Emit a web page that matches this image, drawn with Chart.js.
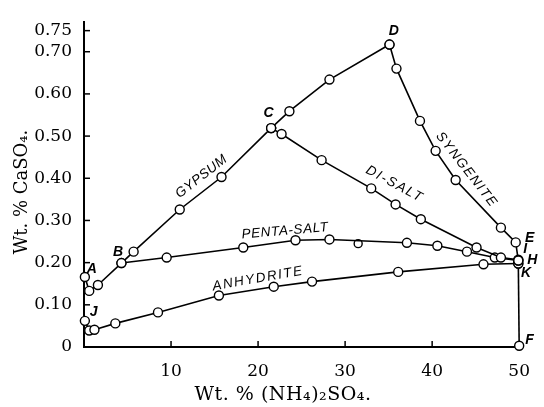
<!DOCTYPE html>
<html>
<head>
<meta charset="utf-8">
<script src="https://cdn.jsdelivr.net/npm/chart.js@4.4.1/dist/chart.umd.min.js"></script>
<style>
    html, body { margin: 0; padding: 0; background: #fff; }
    #wrap { width: 544px; height: 407px; }
</style>
</head>
<body>
<div id="wrap"><canvas id="solubilityChart"></canvas></div>
<script>
// Tick labels
const xTickValues = [10, 20, 30, 40, 50];
const yTickValues = [0, 0.10, 0.20, 0.30, 0.40, 0.50, 0.60, 0.70, 0.75];

// Wt. % (NH4)2SO4 (x) vs Wt. % CaSO4 (y)
const gypsumX = [0.1, 0.6, 1.6, 4.3, 5.7, 11.0, 15.8, 21.5];
const gypsumY = [0.166, 0.133, 0.147, 0.199, 0.226, 0.326, 0.403, 0.519];

const cdX = [21.5, 23.6, 28.2, 35.1];
const cdY = [0.519, 0.559, 0.634, 0.717];

const syngeniteX = [35.1, 35.9, 38.6, 40.4, 42.7, 47.9, 49.6, 49.9];
const syngeniteY = [0.717, 0.660, 0.536, 0.465, 0.396, 0.283, 0.248, 0.205];

const diSaltX = [21.5, 22.7, 27.3, 33.0, 35.8, 38.7, 45.1, 47.9, 49.9];
const diSaltY = [0.519, 0.505, 0.443, 0.376, 0.338, 0.303, 0.236, 0.212, 0.207];

const pentaSaltX = [4.3, 9.5, 18.3, 24.3, 28.2, 37.1, 40.6, 44.0, 47.2, 49.9];
const pentaSaltY = [0.199, 0.212, 0.236, 0.253, 0.255, 0.247, 0.240, 0.226, 0.212, 0.205];

const anhydriteX = [0.1, 0.6, 1.2, 3.6, 8.5, 15.5, 21.8, 26.2, 36.1, 45.9, 49.9];
const anhydriteY = [0.062, 0.039, 0.041, 0.056, 0.082, 0.122, 0.143, 0.155, 0.178, 0.196, 0.198];

const kfX = [49.9, 50.0];
const kfY = [0.198, 0.003];

const strayX = [31.5];
const strayY = [0.245];

// text placed in data units
const pointLetters = [
    { text: "A", x: 0.9, y: 0.185 },
    { text: "B", x: 3.9, y: 0.224 },
    { text: "C", x: 21.2, y: 0.554 },
    { text: "D", x: 35.6, y: 0.748 },
    { text: "E", x: 51.2, y: 0.258 },
    { text: "I", x: 50.7, y: 0.231 },
    { text: "H", x: 51.5, y: 0.205 },
    { text: "K", x: 50.8, y: 0.174 },
    { text: "F", x: 51.2, y: 0.016 },
    { text: "J", x: 1.1, y: 0.082 }
];
const curveNames = [
    { text: "GYPSUM", x: 13.5, y: 0.404, angle: -38, spacing: 0.5 },
    { text: "PENTA-SALT", x: 23.1, y: 0.275, angle: -5, spacing: 0.6 },
    { text: "ANHYDRITE", x: 20.0, y: 0.162, angle: -10, spacing: 1.6 },
    { text: "DI-SALT", x: 35.7, y: 0.386, angle: 28, spacing: 1.8 },
    { text: "SYNGENITE", x: 43.96, y: 0.420, angle: 52, spacing: 1.5 }
];

function toPoints(xs, ys) {
    return xs.map((x, i) => ({ x: x, y: ys[i] }));
}

function curve(xs, ys, showPoints) {
    return {
        data: toPoints(xs, ys),
        showLine: true,
        borderColor: "#000",
        borderWidth: 1.6,
        pointRadius: showPoints ? 4.5 : 0,
        pointBackgroundColor: "#fff",
        pointBorderColor: "#000",
        pointBorderWidth: 1.4,
        tension: 0,
        clip: false
    };
}

const serif = "'DejaVu Serif', serif";

const textPlugin = {
    id: "textPlugin",
    beforeDatasetsDraw(chart) {
        // inward tick marks
        const ctx = chart.ctx;
        const x = chart.scales.x, y = chart.scales.y;
        ctx.save();
        ctx.strokeStyle = "#000";
        ctx.lineWidth = 1.5;
        yTickValues.forEach(v => {
            const py = y.getPixelForValue(v);
            ctx.beginPath();
            ctx.moveTo(x.left, py);
            ctx.lineTo(x.left + 6, py);
            ctx.stroke();
        });
        xTickValues.forEach(v => {
            const px = x.getPixelForValue(v);
            ctx.beginPath();
            ctx.moveTo(px, y.bottom);
            ctx.lineTo(px, y.bottom - 6);
            ctx.stroke();
        });
        ctx.restore();
    },
    afterDraw(chart) {
        const ctx = chart.ctx;
        const x = chart.scales.x, y = chart.scales.y;
        ctx.save();
        ctx.fillStyle = "#000";
        ctx.textAlign = "center";
        ctx.textBaseline = "middle";

        // axis titles
        ctx.save();
        ctx.font = "19px " + serif;
        ctx.letterSpacing = "0.5px";
        ctx.fillText("Wt. % (NH\u2084)\u2082SO\u2084.", 283, 395);
        ctx.restore();
        ctx.save();
        ctx.font = "18px " + serif;
        ctx.translate(22, 192);
        ctx.rotate(-Math.PI / 2);
        ctx.fillText("Wt. % CaSO\u2084.", 0, 0);
        ctx.restore();

        ctx.font = "italic bold 14px 'Liberation Sans', sans-serif";
        pointLetters.forEach(p => {
            ctx.fillText(p.text, x.getPixelForValue(p.x), y.getPixelForValue(p.y));
        });

        ctx.font = "italic 13.5px 'Liberation Sans', sans-serif";
        curveNames.forEach(c => {
            ctx.save();
            ctx.letterSpacing = c.spacing + "px";
            ctx.translate(x.getPixelForValue(c.x), y.getPixelForValue(c.y));
            ctx.rotate(c.angle * Math.PI / 180);
            ctx.fillText(c.text, 0, 0);
            ctx.restore();
        });
        ctx.restore();
    }
};

const ctx = document.getElementById("solubilityChart").getContext("2d");
const chart = new Chart(ctx, {
    type: "scatter",
    data: {
        datasets: [
            curve(gypsumX, gypsumY, true),
            curve(cdX, cdY, true),
            curve(syngeniteX, syngeniteY, true),
            curve(diSaltX, diSaltY, true),
            curve(pentaSaltX, pentaSaltY, true),
            curve(anhydriteX, anhydriteY, true),
            curve(kfX, kfY, true),
            Object.assign(curve(strayX, strayY, true), { showLine: false, pointRadius: 4 })
        ]
    },
    options: {
        responsive: true,
        maintainAspectRatio: false,
        animation: false,
        layout: { padding: { left: 0, right: 17, top: 13, bottom: 0 } },
        plugins: {
            legend: { display: false },
            tooltip: { enabled: false }
        },
        scales: {
            x: {
                type: "linear",
                min: 0,
                max: 50,
                afterBuildTicks: s => { s.ticks = xTickValues.map(v => ({ value: v })); },
                afterFit: s => { s.height = 60; },
                grid: { drawOnChartArea: false, drawTicks: false },
                border: { display: true, color: "#000", width: 2 },
                ticks: {
                    autoSkip: false,
                    maxRotation: 0,
                    padding: 14,
                    color: "#000",
                    font: { family: serif, size: 17 }
                }
            },
            y: {
                type: "linear",
                min: 0,
                max: 0.77,
                afterBuildTicks: s => { s.ticks = yTickValues.map(v => ({ value: v })); },
                afterFit: s => { s.width = 84; },
                grid: { drawOnChartArea: false, drawTicks: false },
                border: { display: true, color: "#000", width: 2 },
                ticks: {
                    autoSkip: false,
                    padding: 12,
                    color: "#000",
                    font: { family: serif, size: 17 },
                    callback: v => (v === 0 ? "0" : v.toFixed(2))
                }
            }
        }
    },
    plugins: [textPlugin]
});
</script>
</body>
</html>
